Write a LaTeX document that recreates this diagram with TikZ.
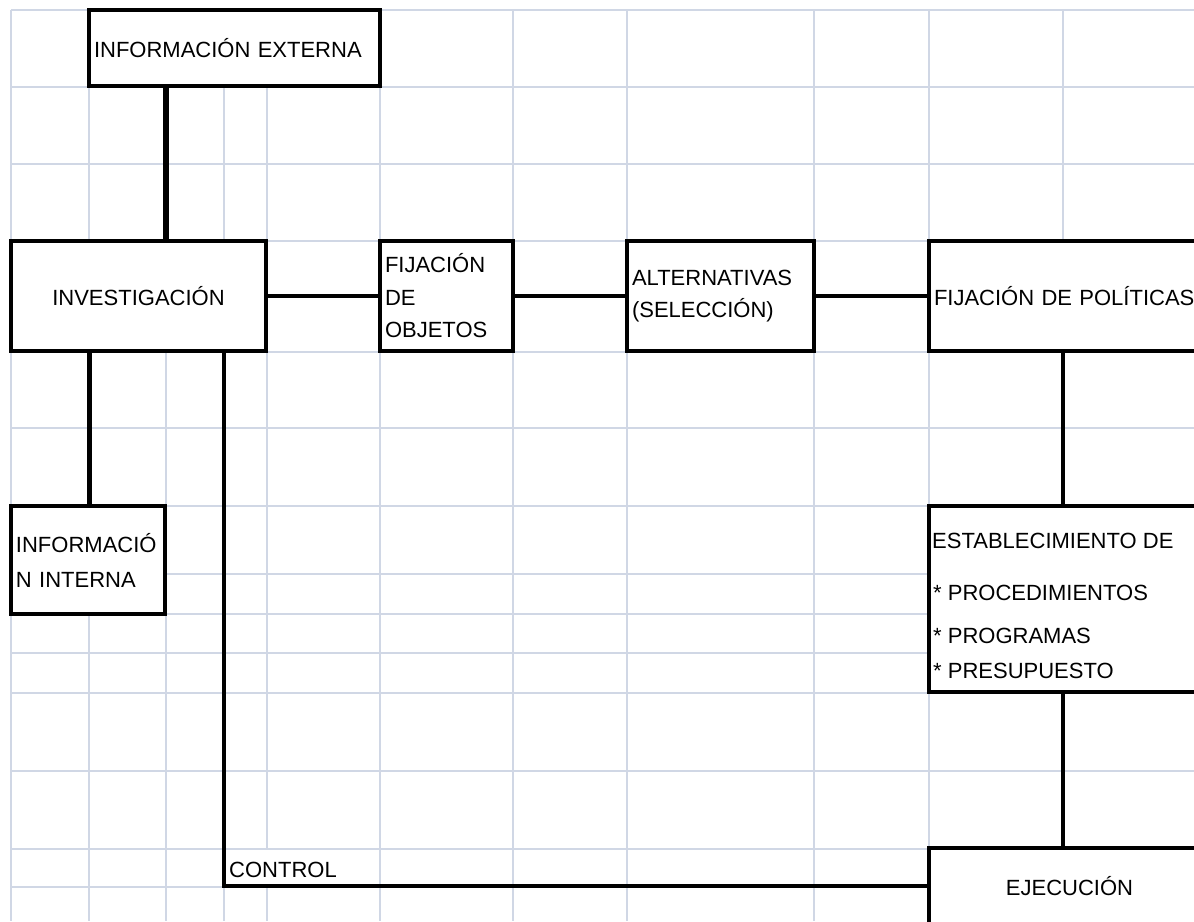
\documentclass[tikz,border=0pt]{standalone}
\usepackage{fontspec}
\setmainfont{Liberation Sans}
\usepackage{tikz}
\definecolor{gridblue}{HTML}{D0D7E5}

\begin{document}
\begin{tikzpicture}[x=1pt, y=-1pt,
  box/.style={draw, line width=4pt, fill=white, inner xsep=5pt, inner ysep=0pt,
    outer sep=0pt, font=\fontsize{22}{32.5}\selectfont},
  lbox/.style={box, align=left},
  cell/.style={inner sep=0pt, anchor=base west, font=\fontsize{22}{26}\selectfont},
  link/.style={line width=4pt},
  gridline/.style={draw=gridblue, line width=2pt}]
  \useasboundingbox (0,0) rectangle (1194,921);
  \clip (0,0) rectangle (1194,921);
  \fill[white] (0,0) rectangle (1194,921);

  \foreach \gx in {11,89,166,224,380,513,627,814,929,1063}
    \draw[gridline] (\gx,10) -- (\gx,921);
  \draw[gridline] (267,10) -- (267,849) (267,887) -- (267,921);
  \foreach \gy in {10,87,164,241,352,428,506,574,614,653,693,771,849,887}
    \draw[gridline] (11,\gy) -- (1194,\gy);

  \coordinate (colB) at (89,0);
  \coordinate (colC) at (166,0);
  \coordinate (colJ) at (1063,0);
  \coordinate (ctl) at (224,886);

  \node[lbox, minimum height=76pt, text width=281pt] (infoext) at (234.5,48) {INFORMACIÓN EXTERNA};
  \node[box, minimum width=255pt, minimum height=110pt] (invest) at (138.5,296) {INVESTIGACIÓN};
  \node[lbox, minimum height=110pt, text width=123pt] (fijobj) at (446.5,296) {FIJACIÓN\\DE\\OBJETOS};
  \node[lbox, minimum height=110pt, text width=177pt] (altern) at (720.5,296) {ALTERNATIVAS\\(SELECCIÓN)};
  \node[lbox, minimum height=110pt, text width=271pt] (fijpol) at (1069.5,296) {FIJACIÓN DE POLÍTICAS};
  \node[lbox, minimum height=108pt, text width=144pt, font=\fontsize{22}{35}\selectfont] (infoint) at (88,560) {INFORMACIÓ\\N INTERNA};
  \node[box, minimum width=281pt, minimum height=186pt] (estab) at (1069.5,599) {};
  \node[cell] (estab1) at (932,548) {ESTABLECIMIENTO DE};
  \node[cell] (estab2) at (933,600) {* PROCEDIMIENTOS};
  \node[cell] (estab3) at (933,643) {* PROGRAMAS};
  \node[cell] (estab4) at (933,678) {* PRESUPUESTO};
  \node[box, minimum width=281pt, minimum height=76pt] (ejec) at (1069.5,886) {EJECUCIÓN};
  \node[cell] (ctltxt) at (229,877) {CONTROL};

  \draw[link, line width=6pt] (infoext.south -| colC) -- (invest.north -| colC);
  \draw[link] (invest) -- (fijobj);
  \draw[link] (fijobj) -- (altern);
  \draw[link] (altern) -- (fijpol);
  \draw[link, line width=5pt] (invest.south -| colB) -- (infoint.north -| colB);
  \draw[link, line width=4.5pt] (fijpol.south -| colJ) -- (estab.north -| colJ);
  \draw[link, line width=4.5pt] (estab.south -| colJ) -- (ejec.north -| colJ);
  \draw[link] (invest.south -| ctl) -- (ctl) -- (ejec.west);
\end{tikzpicture}
\end{document}
